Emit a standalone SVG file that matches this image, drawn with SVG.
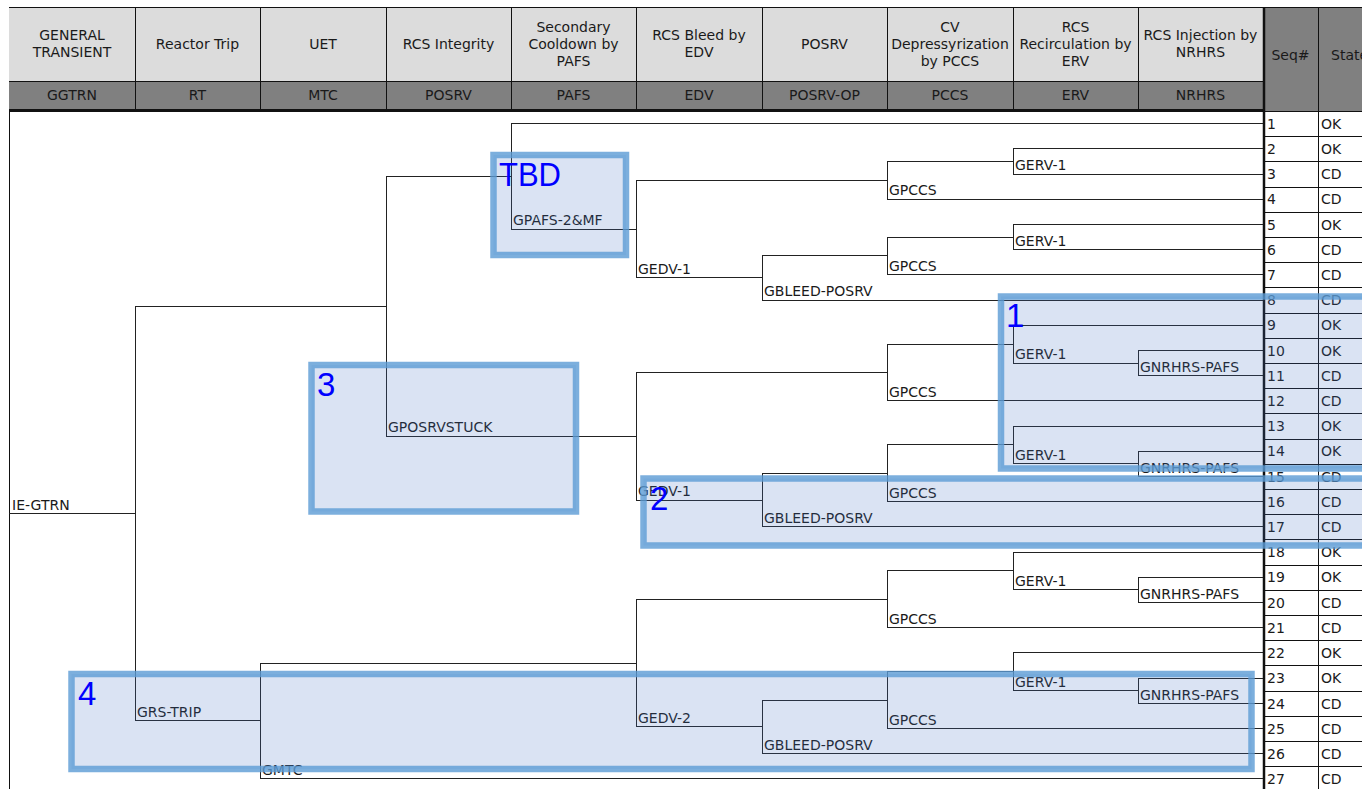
<svg xmlns="http://www.w3.org/2000/svg" width="1362" height="789" viewBox="0 0 1362 789">
<style>
.t{font-family:"DejaVu Sans",Verdana,sans-serif;font-size:14px;fill:#1a1a1a}
.hc{text-anchor:middle}
.ln{stroke:#222;stroke-width:1;fill:none;shape-rendering:crispEdges}
.grid{stroke:#111;stroke-width:1;fill:none;shape-rendering:crispEdges}
.hl{fill:#4472c4;fill-opacity:0.2;stroke:#5b9bd5;stroke-opacity:0.8;stroke-width:6.5}
.big{font-family:"Liberation Sans",Arial,sans-serif;font-size:33px;fill:#0000ff}
</style>
<rect width="1362" height="789" fill="#fff"/>
<g id="header">
<rect x="9" y="7" width="1254" height="74" fill="#dcdcdc"/>
<rect x="9" y="81" width="1254" height="29" fill="#808080"/>
<rect x="1263" y="7" width="99" height="104" fill="#808080"/>
<path class="grid" d="M9 7.5H1362M9 81.5H1263M135.5 7V110M260.5 7V110M386.5 7V110M511.5 7V110M636.5 7V110M762.5 7V110M887.5 7V110M1013.5 7V110M1138.5 7V110"/>
<path d="M9 110.5H1263" stroke="#111" stroke-width="2.5" shape-rendering="crispEdges"/>
<text class="t hc" x="72" y="40">GENERAL</text><text class="t hc" x="72" y="57">TRANSIENT</text>
<text class="t hc" x="197.5" y="49">Reactor Trip</text>
<text class="t hc" x="323" y="49">UET</text>
<text class="t hc" x="448.5" y="49">RCS Integrity</text>
<text class="t hc" x="573.5" y="32">Secondary</text><text class="t hc" x="573.5" y="49">Cooldown by</text><text class="t hc" x="573.5" y="66">PAFS</text>
<text class="t hc" x="699" y="40">RCS Bleed by</text><text class="t hc" x="699" y="57">EDV</text>
<text class="t hc" x="824.5" y="49">POSRV</text>
<text class="t hc" x="950" y="32">CV</text><text class="t hc" x="950" y="49">Depressyrization</text><text class="t hc" x="950" y="66">by PCCS</text>
<text class="t hc" x="1075.5" y="32">RCS</text><text class="t hc" x="1075.5" y="49">Recirculation by</text><text class="t hc" x="1075.5" y="66">ERV</text>
<text class="t hc" x="1200.5" y="40">RCS Injection by</text><text class="t hc" x="1200.5" y="57">NRHRS</text>
<text class="t hc" x="72" y="100">GGTRN</text>
<text class="t hc" x="197.5" y="100">RT</text>
<text class="t hc" x="323" y="100">MTC</text>
<text class="t hc" x="448.5" y="100">POSRV</text>
<text class="t hc" x="573.5" y="100">PAFS</text>
<text class="t hc" x="699" y="100">EDV</text>
<text class="t hc" x="824.5" y="100">POSRV-OP</text>
<text class="t hc" x="950" y="100">PCCS</text>
<text class="t hc" x="1075.5" y="100">ERV</text>
<text class="t hc" x="1200.5" y="100">NRHRS</text>
<text class="t hc" x="1290.5" y="60">Seq#</text>
<text class="t" x="1331" y="60">State</text>
</g>
<g id="seq-table">
<path class="grid" d="M1263 111.5H1362M1263 136.7H1362M1263 161.9H1362M1263 187.1H1362M1263 212.3H1362M1263 237.5H1362M1263 262.7H1362M1263 287.9H1362M1263 313.1H1362M1263 338.3H1362M1263 363.5H1362M1263 388.7H1362M1263 413.9H1362M1263 439.1H1362M1263 464.3H1362M1263 489.5H1362M1263 514.7H1362M1263 539.9H1362M1263 565.1H1362M1263 590.3H1362M1263 615.5H1362M1263 640.7H1362M1263 665.9H1362M1263 691.1H1362M1263 716.3H1362M1263 741.5H1362M1263 766.7H1362M1318.5 7V789"/>
<path d="M9.5 110V789" stroke="#111" stroke-width="1"/>
<path d="M1264 7V789" stroke="#111" stroke-width="2.5"/>
<g class="t">
<text x="1267" y="129">1</text><text x="1321" y="129">OK</text>
<text x="1267" y="154">2</text><text x="1321" y="154">OK</text>
<text x="1267" y="179">3</text><text x="1321" y="179">CD</text>
<text x="1267" y="204">4</text><text x="1321" y="204">CD</text>
<text x="1267" y="230">5</text><text x="1321" y="230">OK</text>
<text x="1267" y="255">6</text><text x="1321" y="255">CD</text>
<text x="1267" y="280">7</text><text x="1321" y="280">CD</text>
<text x="1267" y="305">8</text><text x="1321" y="305">CD</text>
<text x="1267" y="330">9</text><text x="1321" y="330">OK</text>
<text x="1267" y="356">10</text><text x="1321" y="356">OK</text>
<text x="1267" y="381">11</text><text x="1321" y="381">CD</text>
<text x="1267" y="406">12</text><text x="1321" y="406">CD</text>
<text x="1267" y="431">13</text><text x="1321" y="431">OK</text>
<text x="1267" y="456">14</text><text x="1321" y="456">OK</text>
<text x="1267" y="482">15</text><text x="1321" y="482">CD</text>
<text x="1267" y="507">16</text><text x="1321" y="507">CD</text>
<text x="1267" y="532">17</text><text x="1321" y="532">CD</text>
<text x="1267" y="557">18</text><text x="1321" y="557">OK</text>
<text x="1267" y="582">19</text><text x="1321" y="582">OK</text>
<text x="1267" y="608">20</text><text x="1321" y="608">CD</text>
<text x="1267" y="633">21</text><text x="1321" y="633">CD</text>
<text x="1267" y="658">22</text><text x="1321" y="658">OK</text>
<text x="1267" y="683">23</text><text x="1321" y="683">OK</text>
<text x="1267" y="709">24</text><text x="1321" y="709">CD</text>
<text x="1267" y="734">25</text><text x="1321" y="734">CD</text>
<text x="1267" y="759">26</text><text x="1321" y="759">CD</text>
<text x="1267" y="784">27</text><text x="1321" y="784">CD</text>
</g>
</g>
<g id="connectors" class="ln">
<path d="M9 513.6H135M135 306.3V720.9M135 306.3H386M135 720.9H260"/>
<path d="M386 176.4V436.2M386 176.4H511M386 436.2H636"/>
<path d="M511 123.6V229.1M511 123.6H1263M511 229.1H636"/>
<path d="M636 180.3V277.95M636 180.3H887M636 277.95H762"/>
<path d="M887 161.4V199.2M887 161.4H1013M887 199.2H1263M1013 148.8V174M1013 148.8H1263M1013 174H1263"/>
<path d="M762 255.9V300M762 255.9H887M762 300H1263"/>
<path d="M887 237V274.8M887 237H1013M887 274.8H1263M1013 224.4V249.6M1013 224.4H1263M1013 249.6H1263"/>
<path d="M636 372.45V500M636 372.45H887M636 500H762"/>
<path d="M887 344.1V400.8M887 344.1H1013M887 400.8H1263M1013 325.2V363M1013 325.2H1263M1013 363H1138M1138 350.4V375.6M1138 350.4H1263M1138 375.6H1263"/>
<path d="M762 473.25V526.8M762 473.25H887M762 526.8H1263"/>
<path d="M887 444.9V501.6M887 444.9H1013M887 501.6H1263M1013 426V463.8M1013 426H1263M1013 463.8H1138M1138 451.2V476.4M1138 451.2H1263M1138 476.4H1263"/>
<path d="M260 663V778.8M260 663H636M260 778.8H1263"/>
<path d="M636 599.25V726.8M636 599.25H887M636 726.8H762"/>
<path d="M887 570.9V627.6M887 570.9H1013M887 627.6H1263M1013 552V589.8M1013 552H1263M1013 589.8H1138M1138 577.2V602.4M1138 577.2H1263M1138 602.4H1263"/>
<path d="M762 700.05V753.6M762 700.05H887M762 753.6H1263"/>
<path d="M887 671.7V728.4M887 671.7H1013M887 728.4H1263M1013 652.8V690.6M1013 652.8H1263M1013 690.6H1138M1138 678V703.2M1138 678H1263M1138 703.2H1263"/>
</g>
<g id="node-ie"><text class="t" x="12" y="510">IE-GTRN</text></g>
<g id="node-grs-trip"><text class="t" x="137" y="717">GRS-TRIP</text></g>
<g id="node-gmtc"><text class="t" x="262" y="775">GMTC</text></g>
<g id="node-gposrvstuck"><text class="t" x="388" y="432">GPOSRVSTUCK</text></g>
<g id="node-gpafs"><text class="t" x="513" y="225">GPAFS-2&amp;MF</text></g>
<g id="node-gedv-1a"><text class="t" x="638" y="274">GEDV-1</text></g>
<g id="node-gbleed-a"><text class="t" x="764" y="296">GBLEED-POSRV</text></g>
<g id="node-gpccs-a"><text class="t" x="889" y="195">GPCCS</text></g>
<g id="node-gerv-a"><text class="t" x="1015" y="170">GERV-1</text></g>
<g id="node-gpccs-b"><text class="t" x="889" y="271">GPCCS</text></g>
<g id="node-gerv-b"><text class="t" x="1015" y="246">GERV-1</text></g>
<g id="node-gpccs-c"><text class="t" x="889" y="397">GPCCS</text></g>
<g id="node-gerv-c"><text class="t" x="1015" y="359">GERV-1</text></g>
<g id="node-gnrhrs-c"><text class="t" x="1140" y="372">GNRHRS-PAFS</text></g>
<g id="node-gedv-1b"><text class="t" x="638" y="496">GEDV-1</text></g>
<g id="node-gbleed-b"><text class="t" x="764" y="523">GBLEED-POSRV</text></g>
<g id="node-gpccs-d"><text class="t" x="889" y="498">GPCCS</text></g>
<g id="node-gerv-d"><text class="t" x="1015" y="460">GERV-1</text></g>
<g id="node-gnrhrs-d"><text class="t" x="1140" y="473">GNRHRS-PAFS</text></g>
<g id="node-gedv-2"><text class="t" x="638" y="723">GEDV-2</text></g>
<g id="node-gpccs-e"><text class="t" x="889" y="624">GPCCS</text></g>
<g id="node-gerv-e"><text class="t" x="1015" y="586">GERV-1</text></g>
<g id="node-gnrhrs-e"><text class="t" x="1140" y="599">GNRHRS-PAFS</text></g>
<g id="node-gbleed-c"><text class="t" x="764" y="750">GBLEED-POSRV</text></g>
<g id="node-gpccs-f"><text class="t" x="889" y="725">GPCCS</text></g>
<g id="node-gerv-f"><text class="t" x="1015" y="687">GERV-1</text></g>
<g id="node-gnrhrs-f"><text class="t" x="1140" y="700">GNRHRS-PAFS</text></g>
<g id="highlights">
<g id="hl-tbd"><rect class="hl" x="493.5" y="155" width="132.5" height="100"/><text class="big" x="499" y="186" textLength="62" lengthAdjust="spacingAndGlyphs">TBD</text></g>
<g id="hl-1"><rect class="hl" x="1001" y="296.5" width="380" height="172"/><text class="big" x="1006" y="327">1</text></g>
<g id="hl-2"><rect class="hl" x="643.5" y="478.5" width="740" height="67"/><text class="big" x="650" y="510">2</text></g>
<g id="hl-3"><rect class="hl" x="311.5" y="365" width="264.5" height="146.5"/><text class="big" x="317" y="396">3</text></g>
<g id="hl-4"><rect class="hl" x="71.5" y="674" width="1180" height="95"/><text class="big" x="78" y="705">4</text></g>
</g>
</svg>
